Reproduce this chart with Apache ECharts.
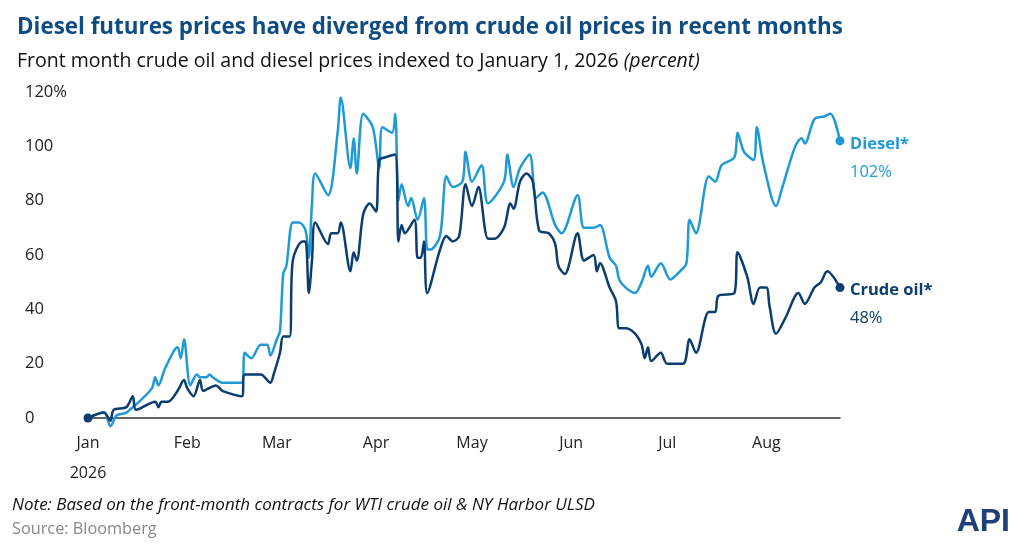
<!DOCTYPE html>
<html><head><meta charset="utf-8">
<script src="https://cdn.jsdelivr.net/npm/echarts@6/dist/echarts.min.js"></script>
<style>html,body{margin:0;padding:0;background:#fff}#c{width:1024px;height:558px}</style>
</head><body><div id="c"></div>
<script>
const monthStarts=[0,31,59,90,120,151,181,212];
const monthLabels=['Jan\n2026','Feb','Mar','Apr','May','Jun','Jul','Aug'];
const yTicks=[0,20,40,60,80,100,120];
const dieselDays=[0,5,7,9,12,14,16,20,21,22,24,27,28,29,30,32,34,35,37,38,39,42,48,49,51,54,56,57,59,60,61,62,64,66,68,69,70,71,75,78,79,82,83,84,86,89,91,92,95,96,97,98,100,101,103,105,106,107,110,112,114,117,118,120,123,125,130,131,133,135,138,140,142,146,148,153,155,158,160,163,165,166,168,171,173,175,176,179,182,185,187,188,190,194,196,198,202,203,205,208,209,211,215,217,221,223,224,227,230,232,235];
const dieselVals=[0,2,-3,1,2,4,6,11,15,12,18,25,26,22,29,12,16,15,15,16,15,13,13,24,22,27,27,23,29,32,53,56,72,72,69,59,79,90,82,105,118,92,103,90,112,107,92,107,105,112,80,86,78,81,73,81,62,62,67,89,85,87,98,87,93,79,87,97,85,92,97,81,83,71,68,82,70,70,71,59,56,51,48,46,50,56,52,57,51,54,57,73,68,89,87,93,96,105,98,95,107,94,78,85,100,103,101,110,111,112,102];
const crudeDays=[0,5,7,8,12,14,15,21,22,23,25,28,30,31,33,35,36,40,42,48,49,54,57,58,60,61,63,64,67,68,69,70,71,75,76,78,79,82,83,84,86,88,90,91,93,96,97,98,99,102,103,104,105,106,110,112,114,116,118,120,122,125,127,130,132,133,135,137,139,141,144,146,147,149,153,155,158,159,160,163,165,166,168,171,173,174,175,176,179,181,186,188,190,194,196,197,202,203,206,208,210,212,213,215,218,222,224,227,229,231,235];
const crudeVals=[0,2,-1,3,4,8,3,6,4,6,6,10,14,11,8,14,10,12,10,8,16,16,13,16,24,30,30,58,65,65,46,58,72,64,68,68,72,54,61,58,75,79,76,95,96,97,65,71,68,73,59,59,65,46,62,67,65,67,86,78,85,66,66,70,79,77,87,90,87,69,68,64,56,53,68,58,60,54,57,48,43,33,33,31,27,22,26,21,24,20,20,29,24,39,39,45,46,61,52,42,48,48,41,31,37,46,42,48,50,54,48];
const zip=(a,b)=>a.map((d,i)=>[d,b[i]]);
const chart=echarts.init(document.getElementById('c'));
const endLab=(name,pct,color)=>({show:true,distance:10,color:color,formatter:()=>'{a|'+name+'}\n{b|'+pct+'}',
  rich:{a:{fontSize:16.5,fontWeight:'bold',color:color,fontFamily:'Open Sans',lineHeight:30},b:{fontSize:16.5,color:color,fontFamily:'Open Sans',lineHeight:26}},align:'left',verticalAlign:'top',offset:[0,-12]});
chart.setOption({
  animation:false,
  textStyle:{fontFamily:'Open Sans'},
  title:[{text:'Diesel futures prices have diverged from crude oil prices in recent months',left:12,top:12,textStyle:{fontSize:22.4,fontWeight:'bold',color:'#0f4c81',fontFamily:'Open Sans'}},
    {text:'Front month crude oil and diesel prices indexed to January 1, 2026 {i|(percent)}',left:12,top:46,textStyle:{fontSize:19.5,fontWeight:'normal',color:'#111',fontFamily:'Open Sans',rich:{i:{fontStyle:'italic',fontSize:19.5,color:'#111'}}}}],
  grid:{left:88,right:184,top:92,bottom:140},
  xAxis:{type:'value',min:0,max:235,axisLine:{lineStyle:{color:'#333',width:1.5}},axisTick:{show:false},splitLine:{show:false},
    axisLabel:{customValues:monthStarts,formatter:v=>monthLabels[monthStarts.indexOf(v)]||'',fontSize:16,color:'#222',margin:10,lineHeight:30,verticalAlign:'top'}},
  yAxis:{type:'value',min:0,max:120,interval:20,splitLine:{show:false},axisLine:{show:false},axisTick:{show:false},
    axisLabel:{formatter:v=>v===120?'120%':String(v),fontSize:16.5,color:'#222',align:'left',margin:63}},
  series:[
    {type:'line',data:zip(dieselDays,dieselVals),smooth:0.3,clip:false,showSymbol:false,lineStyle:{color:'#1f9ad6',width:2.5},itemStyle:{color:'#1f9ad6'},
      endLabel:endLab('Diesel*','102%','#1f9ad6'),
      markPoint:{symbol:'circle',symbolSize:9,label:{show:false},data:[{coord:[235,102]}],itemStyle:{color:'#1f9ad6'}}},
    {type:'line',data:zip(crudeDays,crudeVals),smooth:0.3,clip:false,showSymbol:false,lineStyle:{color:'#0b3d6e',width:2.5},itemStyle:{color:'#0b3d6e'},
      endLabel:endLab('Crude oil*','48%','#0b3d6e'),
      markPoint:{symbol:'circle',symbolSize:9,label:{show:false},data:[{coord:[235,48]},{coord:[0,0]}],itemStyle:{color:'#0b3d6e'}}}
  ],
  graphic:[
    {type:'text',left:12,top:497,style:{text:'Note: Based on the front-month contracts for WTI crude oil & NY Harbor ULSD',fontSize:17,fontStyle:'italic',fill:'#111',fontFamily:'Open Sans'}},
    {type:'text',left:12,top:521,style:{text:'Source: Bloomberg',fontSize:16.3,fill:'#888',fontFamily:'Open Sans'}},
    {type:'text',right:14,top:506,style:{text:'API',fontSize:32,fontWeight:'bold',fill:'#1d3f7a',fontFamily:'Liberation Sans'}}
  ]
});
</script></body></html>
